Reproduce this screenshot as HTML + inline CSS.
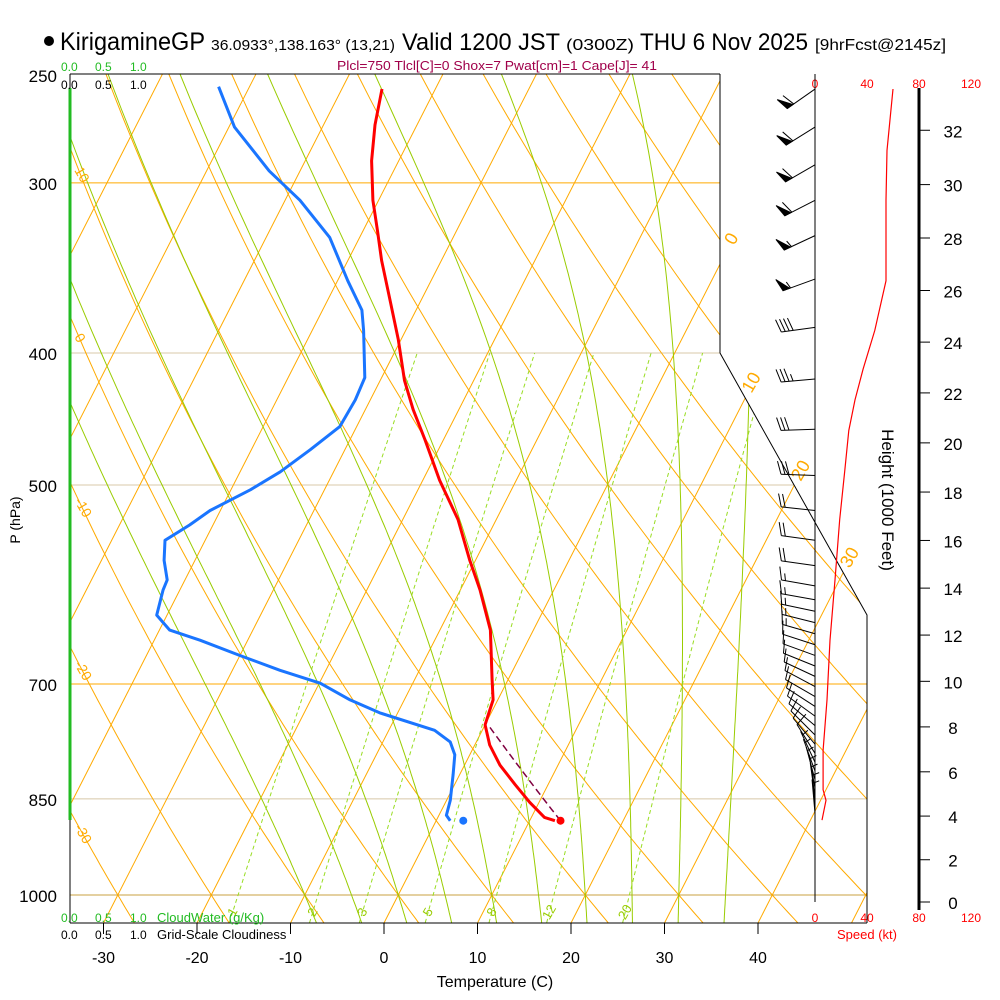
<!DOCTYPE html>
<html><head><meta charset="utf-8"><style>
html,body{margin:0;padding:0;background:#fff;}
svg{display:block;font-family:"Liberation Sans",sans-serif;}
</style></head><body>
<svg id="chart" width="1000" height="1000" viewBox="0 0 1000 1000" xmlns="http://www.w3.org/2000/svg">
<defs><clipPath id="plotclip"><polygon points="70,74 720,74 720,353 867,615 867,923 70,923"/></clipPath></defs>
<g id="title">
<circle cx="49" cy="41" r="5" fill="#000"/>
<text x="60" y="50" font-size="25" textLength="145" lengthAdjust="spacingAndGlyphs">KirigamineGP</text>
<text x="211" y="50" font-size="15" textLength="184" lengthAdjust="spacingAndGlyphs">36.0933°,138.163° (13,21)</text>
<text x="402" y="50" font-size="24" textLength="158" lengthAdjust="spacingAndGlyphs">Valid 1200 JST</text>
<text x="566" y="50" font-size="16" textLength="68" lengthAdjust="spacingAndGlyphs">(0300Z)</text>
<text x="640" y="50" font-size="24" textLength="168" lengthAdjust="spacingAndGlyphs">THU 6 Nov 2025</text>
<text x="815" y="50" font-size="16" textLength="131" lengthAdjust="spacingAndGlyphs">[9hrFcst@2145z]</text>
</g>
<text x="337" y="70" font-size="13" fill="#a0004a" textLength="320" lengthAdjust="spacingAndGlyphs">Plcl=750 Tlcl[C]=0 Shox=7 Pwat[cm]=1 Cape[J]= 41</text>
<g id="grid" clip-path="url(#plotclip)"></g>
<g id="profiles" clip-path="url(#plotclip)"></g>
<g id="axes"></g>
<g id="wind"></g>
</svg>
<script>
// ---- data ----
var tempP = [256,272,289,309,325,342,366,391,419,440,463,496,530,568,597,639,695,719,738,750,776,803,830,855,877,882];
var tempT = [-45.7,-44.5,-42.9,-40.6,-38.5,-36.4,-33.3,-30.3,-27.4,-24.9,-22.0,-18.2,-14.1,-10.6,-7.9,-4.6,-1.7,-0.5,-0.2,0.0,1.6,3.8,6.5,9.0,11.4,12.7];
var dewP = [255,273,294,309,329,354,372,385,417,433,453,471,489,504,522,535,549,568,587,597,623,639,650,667,684,699,719,735,757,772,789,816,852,874,882];
var dewT = [-63.3,-59.4,-53.3,-48.4,-43.2,-38.9,-35.8,-34.5,-31.8,-31.6,-31.8,-33.7,-35.7,-37.9,-41.1,-42.5,-44.3,-43.3,-41.9,-41.8,-41.1,-38.9,-35.1,-30.0,-24.9,-19.9,-15.8,-11.9,-5.1,-2.8,-1.6,-0.7,0.4,0.8,1.5];
var sfcP = 882, sfcT = 13.3, sfcTd = 2.9, lclP = 750;
var barbP = [256,273,291,309,328,353,383,418,455,492,522,549,573,593,607,619,631,643,655,667,679,691,703,715,727,739,751,763,775,787,799,811,823,835,847,859,871];
var barbDir = [235,238,240,243,245,250,262,265,268,272,276,278,278,280,280,282,284,286,288,290,292,295,298,300,303,306,310,315,320,328,335,340,345,350,352,355,355];
var barbSpd = [60,60,58,58,57,55,40,35,30,28,22,20,18,15,14,14,13,13,12,12,12,11,11,10,10,10,9,9,8,8,7,7,6,6,5,5,5];
var spdP = [256,284,309,354,385,411,433,456,487,530,587,650,719,783,837,852,881];
var spdV = [60,55.4,54.6,54.6,46,37,30.8,26,23,19,15.4,11.5,9.2,6.2,6.2,8.5,5.4];
var pLevels = [300,400,500,700,850,1000];
var pLabels = ["300","400","500","700","850","1000"];
var tTicks = [-30,-20,-10,0,10,20,30,40];
var hTicks = [0,2,4,6,8,10,12,14,16,18,20,22,24,26,28,30,32];
var mixW = [1,2,3,5,8,12,20];
var mixLbl = ["1","2","3","5","8","12","20"];
var thetaC = [-40,-30,-20,-10,0,10,20,30,40,50,60,70,80,90,100,110,120,130,140,150];
var adiabLbl = [10,0,-10,-20,-30];
var wetC = [-10,-5,0,5,10,15,20,25,30,35];
var isoLbl = [0,10,20,30];
var spdTicks = [0,40,80,120];

// ---- scales ----
function yP(p){return 895-591.5*Math.log(1000/p);}
function xT(T,p){return 384+9.35*T+0.51*(923-yP(p));}
function xS(v){return 815+v*52/40;}
function hToP(kft){var h=kft*304.8;return 1013.25*Math.pow(1-6.5*h/288150,5.256);}
var NS="http://www.w3.org/2000/svg";
function mk(tag,attrs,parent){var e=document.createElementNS(NS,tag);for(var k in attrs)e.setAttribute(k,attrs[k]);parent.appendChild(e);return e;}
var grid=document.getElementById('grid'),prof=document.getElementById('profiles'),axes=document.getElementById('axes'),wind=document.getElementById('wind');
var ORANGE="#ffaa00",GREEN="#99cc00";
function pathFrom(pts){return pts.map(function(q,i){return (i?'L':'M')+q[0].toFixed(1)+','+q[1].toFixed(1);}).join('');}

// isobars
pLevels.forEach(function(p,i){
  var y=yP(p);var c=(p==300||p==700)?ORANGE:(p==1000?"#c8a040":"#d8c8a8");
  var l=mk('line',{x1:70,x2:870,y1:y,y2:y,stroke:c,'stroke-width':1},grid);
  
  
});
// isotherms
for(var T=-90;T<=60;T+=10){
  var l=mk('line',{x1:xT(T,1060),y1:yP(1060),x2:xT(T,240),y2:yP(240),stroke:ORANGE,'stroke-width':1},grid);
  
  
}
// dry adiabats
thetaC.forEach(function(tc){
  var th=tc+273.15,pts=[];
  for(var p=1060;p>=240;p-=10){pts.push([xT(th*Math.pow(p/1000,0.286)-273.15,p),yP(p)]);}
  var e=mk('path',{d:pathFrom(pts),fill:'none',stroke:ORANGE,'stroke-width':1},grid);
  
  
});
// moist adiabats
function es(tc){return 6.112*Math.exp(17.67*tc/(tc+243.5));}
function dTdp(T,p){var tc=T-273.15,e=es(tc),rs=0.622*e/(p-e);return (287*T+2.5e6*rs)/(p*(1004+2.5e6*2.5e6*rs*0.622/(287*T*T)));}
wetC.forEach(function(tc){
  var pts=[],T=tc+273.15,p;
  var down=[];var Td=T;for(p=1000;p<1060;p+=5){Td+=dTdp(Td,p)*5;down.push([xT(Td-273.15,p+5),yP(p+5)]);}
  down.reverse();pts=down.concat([[xT(tc,1000),yP(1000)]]);
  for(p=1000;p>240;p-=5){T-=dTdp(T,p)*5;pts.push([xT(T-273.15,p-5),yP(p-5)]);}
  var e=mk('path',{d:pathFrom(pts),fill:'none',stroke:GREEN,'stroke-width':1},grid);
  
  
});
// mixing ratio
function tdFromW(w,p){var e=w*p/(622+w),a=Math.log(e/6.112);return 243.5*a/(17.67-a);}
mixW.forEach(function(w,i){
  var pts=[];for(var p=1060;p>=400;p-=10)pts.push([xT(tdFromW(w,p),p),yP(p)]);
  var e=mk('path',{d:pathFrom(pts),fill:'none',stroke:'#99dd22','stroke-width':1,'stroke-dasharray':'4,3'},grid);
  
  
  var lp=1026,x=xT(tdFromW(w,lp),lp)+3,y=yP(lp)+4;
  var t=mk('text',{x:x,y:y,'font-size':13,fill:GREEN,transform:'rotate(-60 '+x+' '+y+')','text-anchor':'middle'},axes);
  t.textContent=mixLbl[i];
  
  
});
// adiabat labels left edge
adiabLbl.forEach(function(tc){
  var th=tc+273.15,lo=240,hi=1060;
  for(var k=0;k<40;k++){var m=(lo+hi)/2;var x=xT(th*Math.pow(m/1000,0.286)-273.15,m);if(x<78)lo=m;else hi=m;}
  var y=yP(lo)+2;
  var t=mk('text',{x:74,y:y,'font-size':14,fill:ORANGE,transform:'rotate(60 74 '+y+')'},axes);
  t.textContent=String(tc);
  
  
});
// isotherm labels right
function rightB(y){return y<=353?720:(y<=615?720+(y-353)*147/262:867);}
isoLbl.forEach(function(T){
  var y=923;for(;y>74;y-=1){var p=1000*Math.exp((y-895)/591.5);if(xT(T,p)>rightB(y)+14)break;}
  var x=rightB(y)+14;y+=10;
  var t=mk('text',{x:x,y:y,'font-size':18,fill:ORANGE,transform:'rotate(-60 '+x+' '+y+')'},axes);
  t.textContent=String(T);
  
  
});

// profiles
var tp=tempP.map(function(p,i){return [xT(tempT[i],p),yP(p)];});
var e1=mk('path',{d:pathFrom(tp),fill:'none',stroke:'#ff0000','stroke-width':3,'stroke-linejoin':'round'},prof);


var dp=dewP.map(function(p,i){return [xT(dewT[i],p),yP(p)];});
var e2=mk('path',{d:pathFrom(dp),fill:'none',stroke:'#1a75ff','stroke-width':3,'stroke-linejoin':'round'},prof);


var th0=(sfcT+273.15)*Math.pow(1000/sfcP,0.286),pp=[];
for(var p=sfcP;p>=lclP;p-=4)pp.push([xT(th0*Math.pow(p/1000,0.286)-273.15,p),yP(p)]);
var e3=mk('path',{d:pathFrom(pp),fill:'none',stroke:'#800040','stroke-width':1.5,'stroke-dasharray':'7,4'},prof);


var c1=mk('circle',{cx:xT(sfcT,sfcP),cy:yP(sfcP),r:4,fill:'#ff0000'},axes);


var c2=mk('circle',{cx:xT(sfcTd,sfcP),cy:yP(sfcP),r:4,fill:'#1a75ff'},axes);



// frame
var fr=mk('polyline',{points:'720,74 720,353 867,615 867,923',fill:'none',stroke:'#000','stroke-width':1},axes);


var ft=mk('line',{x1:70,y1:74,x2:720,y2:74,stroke:'#000'},axes);


var fb=mk('line',{x1:70,y1:923,x2:867,y2:923,stroke:'#000'},axes);


var fl=mk('line',{x1:70,y1:74,x2:70,y2:923,stroke:'#000'},axes);


var fg=mk('line',{x1:70,y1:88,x2:70,y2:820,stroke:'#22bb22','stroke-width':3},axes);


// pressure labels
var all=[250].concat(pLevels),allL=["250"].concat(pLabels);
all.forEach(function(p,i){
  var t=mk('text',{x:57,y:yP(p)+7,'font-size':17,'text-anchor':'end'},axes);
  t.textContent=allL[i];
  
  
});
var pl=mk('text',{x:20,y:520,'font-size':14,'text-anchor':'middle',transform:'rotate(-90 20 520)'},axes);
pl.textContent='P (hPa)';


// temperature ticks
tTicks.forEach(function(T){
  var x=384+9.35*T;
  var l=mk('line',{x1:x,y1:923,x2:x,y2:934,stroke:'#000'},axes);
  
  
  var t=mk('text',{x:x,y:963,'font-size':16,'text-anchor':'middle'},axes);
  t.textContent=String(T);
  
  
});
var xl=mk('text',{x:495,y:987,'font-size':16,'text-anchor':'middle'},axes);
xl.textContent='Temperature (C)';


// cloud legends
function txt(x,y,s,c,sz,name){var t=mk('text',{x:x,y:y,'font-size':sz,fill:c},axes);t.textContent=s;return t;}
txt(61,71,'0.0','#22bb22',12,'cloud-scale-top-green');txt(95,71,'0.5','#22bb22',12,'cloud-scale-top-green');txt(130,71,'1.0','#22bb22',12,'cloud-scale-top-green');
txt(61,89,'0.0','#000',12,'cloud-scale-top-black');txt(95,89,'0.5','#000',12,'cloud-scale-top-black');txt(130,89,'1.0','#000',12,'cloud-scale-top-black');
txt(61,922,'0.0','#22bb22',12,'cloud-scale-bottom');txt(95,922,'0.5','#22bb22',12,'cloud-scale-bottom');txt(130,922,'1.0','#22bb22',12,'cloud-scale-bottom');
txt(157,922,'CloudWater (g/Kg)','#22bb22',13,'cloud-water-legend');
txt(61,939,'0.0','#000',12,'cloudiness-scale');txt(95,939,'0.5','#000',12,'cloudiness-scale');txt(130,939,'1.0','#000',12,'cloudiness-scale');
txt(157,939,'Grid-Scale Cloudiness','#000',13,'cloudiness-legend');

// wind panel
var wa=mk('line',{x1:815,y1:74,x2:815,y2:902,stroke:'#000'},wind);


spdTicks.forEach(function(v){
  var a=txt(xS(v),88,String(v),'#ff0000',12,'speed-label-top');a.setAttribute('text-anchor','middle');
  var b=txt(xS(v),922,String(v),'#ff0000',12,'speed-label-bottom');b.setAttribute('text-anchor','middle');
});
txt(837,939,'Speed (kt)','#ff0000',13,'speed-axis-title');
var sp=spdP.map(function(p,i){return [xS(spdV[i]),yP(p)];});
var sl=mk('path',{d:pathFrom(sp),fill:'none',stroke:'#ff0000','stroke-width':1.2},wind);


barbP.forEach(function(p,i){
  var g=mk('g',{stroke:'#000','stroke-width':1,fill:'#000'},wind);
  
  
  var d=barbDir[i]*Math.PI/180,ux=Math.sin(d),uy=-Math.cos(d),px=-uy,py=ux;
  var sx=815,sy=yP(p),L=34,tx=sx+ux*L,ty=sy+uy*L;
  mk('line',{x1:sx,y1:sy,x2:tx,y2:ty},g);
  var s=Math.round(barbSpd[i]/5)*5,pos=0;
  var nP=Math.floor(s/50);s-=nP*50;var nF=Math.floor(s/10);s-=nF*10;var nH=s>=5?1:0;
  for(var k=0;k<nP;k++){var bx=tx-ux*pos,by=ty-uy*pos;
    mk('polygon',{points:bx+','+by+' '+(bx-ux*7)+','+(by-uy*7)+' '+(bx+px*13+ux*3)+','+(by+py*13+uy*3)},g);pos+=8;}
  for(k=0;k<nF;k++){var bx=tx-ux*pos,by=ty-uy*pos;
    mk('line',{x1:bx,y1:by,x2:bx+px*13+ux*4,y2:by+py*13+uy*4},g);pos+=4;}
  if(nH){if(pos==0)pos=4;var bx=tx-ux*pos,by=ty-uy*pos;
    mk('line',{x1:bx,y1:by,x2:bx+px*7+ux*2,y2:by+py*7+uy*2},g);}
});
// height axis
var ha=mk('line',{x1:919,y1:88,x2:919,y2:910,stroke:'#000','stroke-width':3},wind);


hTicks.forEach(function(h){
  var y=h==0?902:yP(hToP(h));
  var l=mk('line',{x1:919,y1:y,x2:930,y2:y,stroke:'#000'},wind);
  
  
  var t=mk('text',{x:953,y:y+7,'font-size':17,'text-anchor':'middle'},wind);
  t.textContent=String(h);
  
  
});
var ht=mk('text',{x:882,y:500,'font-size':17,'text-anchor':'middle',transform:'rotate(90 882 500)'},wind);
ht.textContent='Height (1000 Feet)';


</script>
</body></html>
